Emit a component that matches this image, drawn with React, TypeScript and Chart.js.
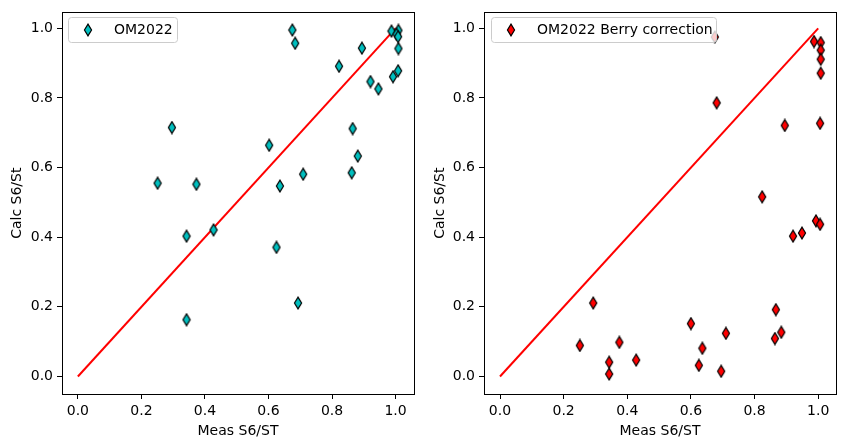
import React, { useEffect, useRef } from "react";
import { Chart, registerables } from "chart.js";

Chart.register(...registerables);

// ---- Data ----
const xTicks = [0, 0.2, 0.4, 0.6, 0.8, 1.0];
const yTicks = [0, 0.2, 0.4, 0.6, 0.8, 1.0];
const lineX = [0, 1];
const lineY = [0, 1];

const leftLabel = "OM2022";
const leftX = [0.675, 0.684, 0.987, 1.009, 1.003, 1.008, 1.009, 0.894, 0.822, 0.921, 0.946, 0.992, 1.008,
  0.296, 0.865, 0.602, 0.881, 0.862, 0.709, 0.251, 0.373, 0.636, 0.342, 0.427, 0.625, 0.693, 0.342];
const leftY = [0.995, 0.957, 0.992, 0.994, 0.983, 0.976, 0.942, 0.943, 0.891, 0.847, 0.826, 0.861, 0.878,
  0.715, 0.712, 0.664, 0.633, 0.585, 0.581, 0.555, 0.552, 0.547, 0.403, 0.421, 0.371, 0.211, 0.163];

const rightLabel = "OM2022 Berry correction";
const rightX = [0.675, 0.681, 0.987, 1.008, 1.008, 1.008, 1.008, 0.895, 1.006, 0.824, 0.993, 1.006, 0.921, 0.949,
  0.293, 0.867, 0.600, 0.710, 0.884, 0.864, 0.375, 0.251, 0.636, 0.428, 0.343, 0.625, 0.695, 0.343];
const rightY = [0.975, 0.786, 0.962, 0.959, 0.937, 0.911, 0.871, 0.721, 0.727, 0.516, 0.447, 0.437, 0.403, 0.412,
  0.211, 0.192, 0.152, 0.124, 0.127, 0.109, 0.098, 0.089, 0.081, 0.047, 0.041, 0.032, 0.015, 0.007];

const FONT = "'DejaVu Sans', sans-serif";

function makeDiamond(fill: string): HTMLCanvasElement {
  const c = document.createElement("canvas");
  c.width = 10;
  c.height = 14;
  const ctx = c.getContext("2d")!;
  const cx = 5, cy = 7, hw = 3.55, hh = 5.9;
  ctx.beginPath();
  ctx.moveTo(cx, cy - hh);
  ctx.lineTo(cx + hw, cy);
  ctx.lineTo(cx, cy + hh);
  ctx.lineTo(cx - hw, cy);
  ctx.closePath();
  ctx.fillStyle = fill;
  ctx.fill();
  ctx.lineWidth = 1.2;
  ctx.strokeStyle = "#000";
  ctx.stroke();
  return c;
}

type PanelProps = {
  left: number;
  xs: number[];
  ys: number[];
  color: string;
  label: string;
  padLeftScale: number;
  padRight: number;
  legendW: number;
  xMin: number;
  xMax: number;
};

function Panel(p: PanelProps) {
  const ref = useRef<HTMLCanvasElement | null>(null);
  useEffect(() => {
    const canvas = ref.current!;
    const marker = makeDiamond(p.color);
    const pts = p.xs.map((x, i) => ({ x, y: p.ys[i] }));
    const linePts = lineX.map((x, i) => ({ x, y: lineY[i] }));

    const framePlugin = {
      id: "frame",
      afterDatasetsDraw(chart: any) {
        const { ctx, chartArea } = chart;
        ctx.save();
        ctx.strokeStyle = "#000";
        ctx.lineWidth = 1;
        ctx.strokeRect(Math.round(chartArea.left) + 0.5, Math.round(chartArea.top) + 0.5,
          Math.round(chartArea.right - chartArea.left), Math.round(chartArea.bottom - chartArea.top));
        // legend
        const bx = 68.5, by = 17.5, bw = p.legendW, bh = 25;
        ctx.beginPath();
        (ctx as any).roundRect(bx, by, bw, bh, 3);
        ctx.fillStyle = "rgba(255,255,255,0.8)";
        ctx.fill();
        ctx.strokeStyle = "#cccccc";
        ctx.lineWidth = 1;
        ctx.stroke();
        ctx.drawImage(marker, 88 - 5, 30 - 7);
        ctx.fillStyle = "#000";
        ctx.font = `14px ${FONT}`;
        ctx.textBaseline = "middle";
        ctx.textAlign = "left";
        ctx.fillText(p.label, 114, 30.5);
        ctx.restore();
      },
    };

    const chart = new Chart(canvas, {
      type: "scatter",
      data: {
        datasets: [
          {
            label: p.label,
            data: pts,
            pointStyle: marker as any,
            pointRadius: 6,
            showLine: false,
          } as any,
          {
            type: "line",
            label: "fit",
            data: linePts,
            borderColor: "#ff0000",
            borderWidth: 2,
            pointRadius: 0,
            showLine: true,
            fill: false,
          } as any,
        ],
      },
      options: {
        responsive: false,
        animation: false,
        layout: { padding: { top: 11, right: p.padRight, bottom: 0, left: 0 } },
        plugins: { legend: { display: false }, tooltip: { enabled: false } },
        scales: {
          x: {
            type: "linear",
            min: p.xMin,
            max: p.xMax,
            afterBuildTicks: (s: any) => { s.ticks = xTicks.map((v) => ({ value: v })); },
            afterFit: (s: any) => { s.height = 54; },
            ticks: { color: "#000", font: { family: FONT, size: 14 }, padding: 4, maxRotation: 0, callback: (v: any) => Number(v).toFixed(1) },
            grid: { display: true, drawOnChartArea: false, drawTicks: true, tickLength: 5, color: "#000", lineWidth: 1 },
            border: { display: false },
            title: { display: true, text: "Meas S6/ST", color: "#000", font: { family: FONT, size: 14 }, padding: { top: 4, bottom: 8 } },
          },
          y: {
            type: "linear",
            min: -0.0503,
            max: 1.0457,
            afterBuildTicks: (s: any) => { s.ticks = yTicks.map((v) => ({ value: v })); },
            afterFit: (s: any) => { s.width = p.padLeftScale; },
            ticks: { color: "#000", font: { family: FONT, size: 14 }, padding: 4, callback: (v: any) => Number(v).toFixed(1) },
            grid: { display: true, drawOnChartArea: false, drawTicks: true, tickLength: 5, color: "#000", lineWidth: 1 },
            border: { display: false },
            title: { display: true, text: "Calc S6/St", color: "#000", font: { family: FONT, size: 14 }, padding: { top: 9, bottom: 4 } },
          },
        },
      },
      plugins: [framePlugin],
    } as any);
    return () => chart.destroy();
  }, []);
  return (
    <canvas
      ref={ref}
      width={423}
      height={448}
      style={{ position: "absolute", left: p.left, top: 0, width: 423, height: 448 }}
    />
  );
}

export default function App() {
  return (
    <div style={{ position: "fixed", left: 0, top: 0, width: 846, height: 448, background: "#fff" }}>
      <Panel left={0} xs={leftX} ys={leftY} color="#00bfbf" label={leftLabel} padLeftScale={62} padRight={9}
        legendW={109} xMin={-0.05} xMax={1.058} />
      <Panel left={423} xs={rightX} ys={rightY} color="#ff0000" label={rightLabel} padLeftScale={61} padRight={10}
        legendW={225} xMin={-0.0503} xMax={1.056} />
    </div>
  );
}
